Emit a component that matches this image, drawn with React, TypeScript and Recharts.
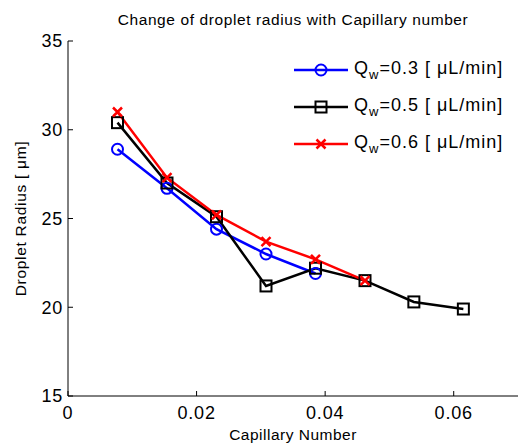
import { LineChart, Line, XAxis, YAxis, Label } from 'recharts';

const capillary = [0.0077, 0.0154, 0.0231, 0.0308, 0.0385, 0.0462, 0.0538, 0.0615];
const radiusQw03 = [28.9, 26.7, 24.4, 23.0, 21.9];
const radiusQw05 = [30.4, 27.0, 25.1, 21.2, 22.2, 21.5, 20.3, 19.9];
const radiusQw06 = [31.0, 27.3, 25.2, 23.7, 22.7, 21.5];
const xTicks = [0, 0.02, 0.04, 0.06];
const yTicks = [15, 20, 25, 30, 35];

const seriesInfo = [
  { key: 'qw03', flow: '0.3', color: '#0000ff', marker: 'circle' },
  { key: 'qw05', flow: '0.5', color: '#000000', marker: 'square' },
  { key: 'qw06', flow: '0.6', color: '#ff0000', marker: 'cross' },
];

const data = capillary.map((ca, i) => ({
  ca,
  qw03: radiusQw03[i],
  qw05: radiusQw05[i],
  qw06: radiusQw06[i],
}));

const FONT = '"Liberation Sans", Arial, sans-serif';

function Marker({ cx, cy, kind, color }: { cx: number; cy: number; kind: string; color: string }) {
  if (cx == null || cy == null || isNaN(cx) || isNaN(cy)) return null;
  if (kind === 'circle') {
    return <circle cx={cx} cy={cy} r={5.5} fill="none" stroke={color} strokeWidth={2} />;
  }
  if (kind === 'square') {
    return <rect x={cx - 5.5} y={cy - 5.5} width={11} height={11} fill="none" stroke={color} strokeWidth={2} />;
  }
  return (
    <path
      d={`M${cx - 4.5},${cy - 4.5}L${cx + 4.5},${cy + 4.5}M${cx - 4.5},${cy + 4.5}L${cx + 4.5},${cy - 4.5}`}
      stroke={color}
      strokeWidth={2.5}
    />
  );
}

// legend drawn outside recharts so it does not shrink the plot area
function LegendBox() {
  return (
    <div
      style={{
        position: 'absolute',
        left: 294,
        top: 51,
        fontFamily: FONT,
        fontSize: 18,
        letterSpacing: 1,
        color: '#000',
      }}
    >
      {seriesInfo.map((s) => (
        <div key={s.key} style={{ display: 'flex', alignItems: 'center', height: 37 }}>
          <svg width={56} height={16} style={{ marginRight: 4 }}>
            <line x1={0} y1={8} x2={54} y2={8} stroke={s.color} strokeWidth={2.5} />
            <Marker cx={27} cy={8} kind={s.marker} color={s.color} />
          </svg>
          <span style={{ whiteSpace: 'nowrap' }}>
            Q<sub style={{ fontSize: 13 }}>w</sub>={s.flow} [ μL/min]
          </span>
        </div>
      ))}
    </div>
  );
}

export default function App() {
  return (
    <div style={{ position: 'absolute', left: 0, top: 0, width: 518, height: 445, background: '#fff', fontFamily: FONT }}>
      <div
        style={{
          position: 'absolute',
          left: 68,
          width: 450,
          top: 11,
          textAlign: 'center',
          fontSize: 15.5,
          letterSpacing: 0.6,
          color: '#000',
        }}
      >
        Change of droplet radius with Capillary number
      </div>
      <LineChart width={518} height={445} data={data} margin={{ top: 41, right: 0, bottom: 0, left: 0 }}>
        <XAxis
          dataKey="ca"
          type="number"
          domain={[0, 0.07]}
          ticks={xTicks}
          allowDataOverflow
          height={49}
          stroke="#000"
          tickSize={-5}
          tickMargin={15}
          tick={{ fill: '#000', fontSize: 18, fontFamily: FONT, letterSpacing: 0.8 }}
          tickFormatter={(v: number) => String(v)}
        >
          <Label
            content={({ viewBox }: any) => (
              <text
                x={viewBox.x + viewBox.width / 2}
                y={viewBox.y + 44}
                textAnchor="middle"
                fontSize={15.5}
                letterSpacing={0.5}
                fontFamily={FONT}
                fill="#000"
              >
                Capillary Number
              </text>
            )}
          />
        </XAxis>
        <YAxis
          type="number"
          domain={[15, 35]}
          ticks={yTicks}
          width={68}
          stroke="#000"
          tickSize={-5}
          tickMargin={10}
          tick={{ fill: '#000', fontSize: 18, fontFamily: FONT, letterSpacing: 0.8 }}
        >
          <Label
            content={({ viewBox }: any) => {
              const x = viewBox.x + 26;
              const y = viewBox.y + viewBox.height / 2;
              return (
                <text
                  x={x}
                  y={y}
                  transform={`rotate(-90, ${x}, ${y})`}
                  textAnchor="middle"
                  fontSize={15.5}
                  letterSpacing={0.7}
                  fontFamily={FONT}
                  fill="#000"
                >
                  Droplet Radius [ μm]
                </text>
              );
            }}
          />
        </YAxis>
        {seriesInfo.map((s) => (
          <Line
            key={s.key}
            dataKey={s.key}
            stroke={s.color}
            strokeWidth={2.5}
            isAnimationActive={false}
            dot={(p: any) => <Marker key={`${s.key}-${p.index}`} cx={p.cx} cy={p.cy} kind={s.marker} color={s.color} />}
            activeDot={false}
          />
        ))}
      </LineChart>
      <LegendBox />
    </div>
  );
}
